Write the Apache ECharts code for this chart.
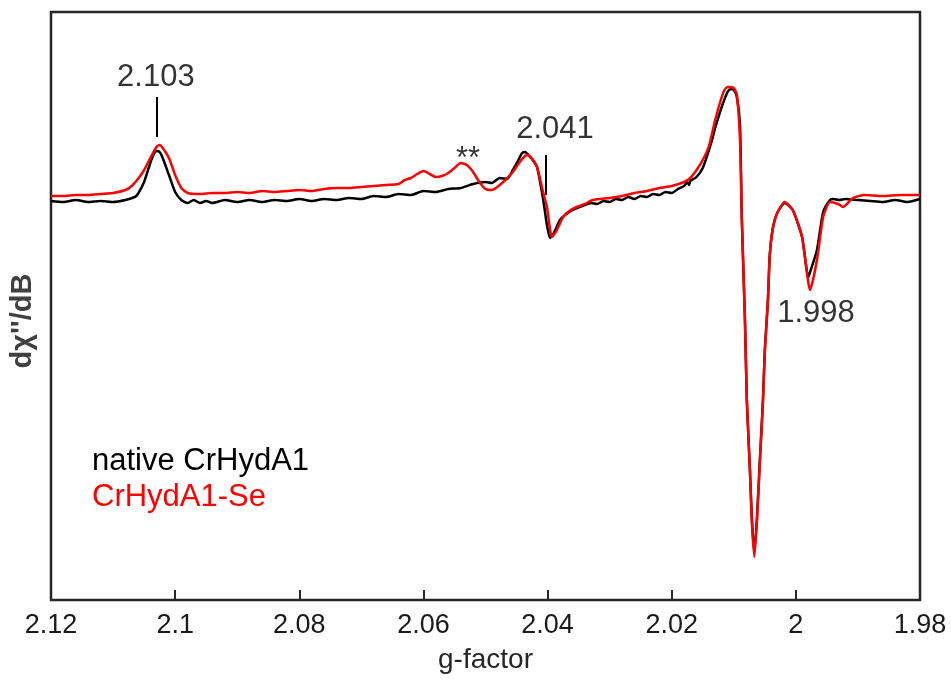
<!DOCTYPE html>
<html>
<head>
<meta charset="utf-8">
<script src="https://cdn.jsdelivr.net/npm/echarts@6/dist/echarts.min.js"></script>
<style>html,body{margin:0;padding:0;background:#fff}#c{width:951px;height:680px}</style>
</head>
<body>
<div id="c"></div>
<script>
// ---- data (g-factor, signal in arbitrary units) ----
const gNative = [2.120,2.118,2.116,2.114,2.112,2.110,2.108,2.1065,2.106,2.105,2.104,2.1035,2.103,2.1025,2.102,2.101,2.100,2.099,2.098,2.097,2.096,2.095,2.094,2.092,2.090,2.088,2.086,2.084,2.082,2.080,2.078,2.076,2.074,2.072,2.070,2.068,2.066,2.064,2.062,2.060,2.058,2.056,2.054,2.052,2.050,2.049,2.0477,2.0465,2.0456,2.0447,2.0441,2.0436,2.0431,2.0424,2.0417,2.0407,2.0401,2.0396,2.0390,2.0380,2.0370,2.0360,2.0340,2.033,2.032,2.031,2.030,2.029,2.028,2.027,2.026,2.025,2.024,2.023,2.022,2.021,2.020,2.019,2.018,2.0175,2.0172,2.017,2.016,2.015,2.014,2.0135,2.013,2.012,2.011,2.0105,2.010,2.0095,2.009,2.0087,2.0082,2.0079,2.0074,2.0071,2.0067,2.00626,2.0058,2.0053,2.0050,2.0045,2.0042,2.0037,2.0030,2.0018,2.0005,1.9990,1.9980,1.9977,1.9966,1.9956,1.9945,1.994,1.993,1.992,1.990,1.988,1.986,1.984,1.982,1.980];
const yNative = [-1,-2,0,-2,-1,-2,0,3,6,18,37,45,49,48,42,25,8,0,-3,0,-3,-1,-3,0,-2,0,-2,0,-1,1,-1,1,0,2,1,4,3,6,5,9,8,11,12,16,18,17,22,21,30,40,47,48,45,40,33,0,-25,-38,-33,-20,-14,-10,-5,-3,-4,-1,-2,1,0,3,1,4,3,6,5,8,7,11,14,18,15,19,23,32,50,60,72,92,108,111,110,103,75,-20,-120,-200,-270,-317,-353,-317,-260,-200,-150,-100,-55,-28,-13,-3,-10,-37,-77,-72,-50,-12,0,1,0,1,0,-1,-2,0,-2,1];

const gSe = [2.120,2.118,2.116,2.114,2.112,2.110,2.108,2.107,2.106,2.105,2.104,2.103,2.1025,2.102,2.101,2.100,2.099,2.098,2.096,2.094,2.092,2.090,2.088,2.086,2.084,2.082,2.080,2.078,2.076,2.074,2.072,2.070,2.068,2.066,2.064,2.063,2.062,2.061,2.060,2.059,2.058,2.057,2.056,2.055,2.054,2.053,2.052,2.051,2.050,2.049,2.0481,2.0468,2.0456,2.0446,2.0438,2.0433,2.0427,2.0417,2.0408,2.0401,2.0393,2.0385,2.0375,2.0365,2.0353,2.0340,2.0327,2.030,2.028,2.026,2.024,2.022,2.020,2.018,2.017,2.016,2.015,2.014,2.013,2.012,2.0115,2.011,2.010,2.0095,2.009,2.0087,2.0082,2.0079,2.0074,2.0071,2.0067,2.00626,2.0058,2.0053,2.0050,2.0045,2.0042,2.0037,2.0030,2.0018,2.0005,1.9990,1.9977,1.9966,1.9956,1.9945,1.9932,1.9924,1.9908,1.989,1.986,1.983,1.980];
const ySe = [4,4,5,5,6,7,10,14,21,30,42,53,55,52,42,25,12,7,6,7,7,8,7,9,8,9,10,9,11,12,12,13,14,15,16,20,22,26,29,26,23,24,27,32,37,35,28,18,11,10,13,20,28,37,43,45,43,33,10,-7,-37,-30,-17,-11,-7,-4,0,2,4,7,9,12,14,18,22,30,40,54,80,102,110,113,112,105,60,-20,-120,-200,-270,-320,-357,-320,-262,-202,-152,-100,-55,-28,-13,-2,-10,-37,-90,-60,-17,-2,-4,-7,2,5,4,5,5];

const seriesNames = ['native CrHydA1', 'CrHydA1-Se'];
const xTicks = {min: 1.98, max: 2.12, step: 0.02};
const axisTitleX = 'g-factor';
const axisTitleY = 'dχ\'\'/dB';

const annotText = ['2.103', '**', '2.041', '1.998'];
const annotG = [2.1031, 2.0528, 2.0388, 1.99675];
const annotY = [123, 41, 71, -113];
const markG = [2.1030, 2.0403];
const markY0 = [63, 5];
const markY1 = [103, 45];

// ---- chart ----
const FONT = '"Liberation Sans", Arial, sans-serif';
const toPairs = (g, y) => g.map((v, i) => [v, y[i]]);
const chart = echarts.init(document.getElementById('c'), null, {renderer: 'canvas'});

chart.setOption({
  animation: false,
  backgroundColor: '#ffffff',
  textStyle: {fontFamily: FONT},
  grid: {left: 51, right: 31, top: 12, bottom: 80, show: true, borderColor: '#262626', borderWidth: 2.5, backgroundColor: 'transparent'},
  legend: {
    orient: 'vertical', left: 82, top: 438, selectedMode: false,
    itemWidth: 0, itemHeight: 0, itemGap: 0, icon: 'none',
    textStyle: {fontSize: 31, lineHeight: 36, fontFamily: FONT},
    data: [
      {name: seriesNames[0], textStyle: {color: '#000000'}},
      {name: seriesNames[1], textStyle: {color: '#ff0000'}}
    ]
  },
  xAxis: {
    type: 'value', min: xTicks.min, max: xTicks.max, interval: xTicks.step, inverse: true,
    name: axisTitleX, nameLocation: 'middle', nameGap: 46,
    nameTextStyle: {fontSize: 28, color: '#262626', fontFamily: FONT},
    axisLine: {show: false, onZero: false},
    axisTick: {show: true, inside: true, length: 10, lineStyle: {color: '#262626', width: 2}},
    axisLabel: {fontSize: 27, color: '#1a1a1a', margin: 12, fontFamily: FONT,
      formatter: v => String(+v.toFixed(2))},
    splitLine: {show: false}
  },
  yAxis: {
    type: 'value', min: -400, max: 188,
    name: axisTitleY, nameLocation: 'middle', nameGap: 14, nameRotate: 90,
    nameTextStyle: {fontSize: 29, fontWeight: 'bold', color: '#404040', fontFamily: FONT, padding: [0, 30, 0, 0]},
    axisLine: {show: false, onZero: false}, axisTick: {show: false}, axisLabel: {show: false}, splitLine: {show: false}
  },
  series: [
    {
      name: seriesNames[0], type: 'line', data: toPairs(gNative, yNative),
      showSymbol: false, symbol: 'none', smooth: 0.2,
      lineStyle: {color: '#000000', width: 2.5}, itemStyle: {color: '#000000'}, z: 2
    },
    {
      name: seriesNames[1], type: 'line', data: toPairs(gSe, ySe),
      showSymbol: false, symbol: 'none', smooth: 0.2,
      lineStyle: {color: '#ff0000', width: 2.5}, itemStyle: {color: '#ff0000'}, z: 3
    },
    {
      name: 'annotations', type: 'scatter', symbolSize: 0, silent: true, z: 4,
      data: annotText.map((t, i) => ({value: [annotG[i], annotY[i]], name: t})),
      label: {show: true, position: 'inside', formatter: p => p.name, fontSize: 31, color: '#000000', textBorderWidth: 0, fontFamily: FONT},
      markLine: {
        silent: true, symbol: 'none', label: {show: false},
        lineStyle: {color: '#000000', width: 2, type: 'solid'},
        data: markG.map((g, i) => [{coord: [g, markY0[i]]}, {coord: [g, markY1[i]]}])
      }
    }
  ]
});
</script>
</body>
</html>
